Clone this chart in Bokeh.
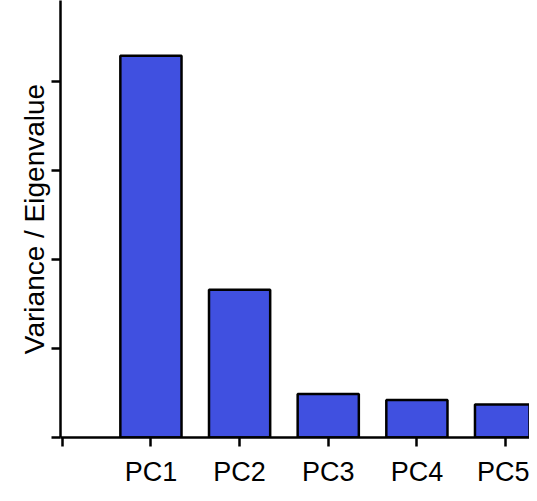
from bokeh.plotting import figure
from bokeh.models import FixedTicker, Range1d
from bokeh.embed import file_html
from bokeh.resources import INLINE

components = ["PC1", "PC2", "PC3", "PC4", "PC5"]
positions = [1, 2, 3, 4, 5]
variance = [4.29, 1.66, 0.49, 0.42, 0.37]
y_ticks = [0, 1, 2, 3, 4, 5]

p = figure(width=529, height=493, output_backend="svg", toolbar_location=None,
           x_range=Range1d(-0.02, 5.27), y_range=Range1d(0, 4.91),
           min_border_left=60, min_border_right=0, min_border_top=0, min_border_bottom=56)
p.vbar(x=positions, top=variance, width=0.69, fill_color="#4050E0",
       line_color="black", line_width=2.5)

p.outline_line_color = None
p.grid.grid_line_color = None

p.xaxis.ticker = FixedTicker(ticks=[0] + positions)
p.xaxis.major_label_overrides = {0: ""} | {k: c for k, c in zip(positions, components)}
p.yaxis.ticker = FixedTicker(ticks=y_ticks)
p.yaxis.major_label_overrides = {t: "" for t in y_ticks}
p.yaxis.axis_label = "Variance / Eigenvalue"
p.yaxis.axis_label_text_font_size = "28px"
p.yaxis.axis_label_text_font_style = "normal"
p.yaxis.axis_label_text_font = "Liberation Sans"
p.yaxis.axis_label_text_color = "black"
p.yaxis.axis_label_standoff = 2

for ax in (p.xaxis, p.yaxis):
    ax.axis_line_width = 2.5
    ax.major_tick_line_width = 2.5
    ax.major_tick_in = 0
    ax.major_tick_out = 9
    ax.minor_tick_line_color = None
    ax.major_label_text_font = "Liberation Sans"
p.xaxis.major_label_text_font_size = "27px"
p.xaxis.major_label_text_color = "black"
p.xaxis.major_label_standoff = 10

open("out.html", "w").write(file_html(p, INLINE))
